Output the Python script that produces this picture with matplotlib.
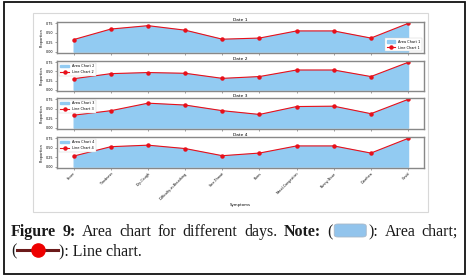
import matplotlib
matplotlib.use('Agg')
from matplotlib import pyplot as plt
from matplotlib.patches import Rectangle, FancyBboxPatch
from matplotlib.lines import Line2D
import numpy as np

# symptoms on the x axis
symptoms = ['Fever', 'Tiredness', 'Dry-Cough', 'Difficulty-in-Breathing', 'Sore-Throat',
            'Pains', 'Nasal-Congestion', 'Runny-Nose', 'Diarrhea', 'Covid']

# proportion per day
day1 = [0.32, 0.60, 0.69, 0.57, 0.33, 0.36, 0.55, 0.55, 0.36, 0.75]
day2 = [0.30, 0.44, 0.47, 0.45, 0.31, 0.36, 0.54, 0.54, 0.36, 0.75]
day3 = [0.33, 0.45, 0.65, 0.60, 0.45, 0.35, 0.56, 0.57, 0.37, 0.75]
day4 = [0.28, 0.53, 0.57, 0.48, 0.29, 0.36, 0.55, 0.55, 0.36, 0.75]
days = [day1, day2, day3, day4]
legend_locs = ['lower right', 'upper left', 'upper left', 'upper left']

W, H = 469, 277
fig = plt.figure(figsize=(W / 100, H / 100), dpi=100)

def px_box(x0, y0, x1, y1):
    # pixel box (top-left origin) -> figure fraction rect
    return [x0 / W, 1 - y1 / H, (x1 - x0) / W, (y1 - y0) / H]

# outer frame + light gray border of the embedded chart
fig.patches.append(Rectangle((4 / W, 1 - 274 / H), 461 / W, 272 / H, transform=fig.transFigure,
                             fill=False, edgecolor='#111111', lw=1.3))
fig.patches.append(Rectangle((33 / W, 1 - 212 / H), 395 / W, 199 / H, transform=fig.transFigure,
                             fill=False, edgecolor='#d8d8d8', lw=0.8))

panel_px = [(22, 53), (61, 91), (98, 129), (137, 168)]
x = np.arange(len(symptoms))
for i, (top, bot) in enumerate(panel_px):
    ax = fig.add_axes(px_box(57, top, 424, bot))
    vals = days[i]
    ax.fill_between(x, vals, color='#92CBF2', label=f'Area Chart {i + 1}')
    ax.plot(x, vals, color='#e8101a', lw=0.8, marker='o', markersize=2.2,
            label=f'Line Chart {i + 1}')
    ax.set_xlim(-0.45, 9.43)
    ax.set_ylim(-0.0375, 0.7875)
    ax.set_yticks([0.0, 0.25, 0.5, 0.75])
    ax.set_yticklabels(['0.00', '0.25', '0.50', '0.75'])
    ax.set_xticks(x)
    ax.tick_params(labelsize=2.4, length=1.5, width=0.4, pad=1, color='#555555')
    ax.set_ylabel('Proportion', fontsize=2.6, labelpad=2)
    ax.set_title(f'Date {i + 1}', fontsize=3.2, pad=1)
    for s in ax.spines.values():
        s.set_color('#888888')
        s.set_linewidth(1.0)
    leg = ax.legend(loc=legend_locs[i], fontsize=2.5, frameon=True, handlelength=2.5,
                    borderpad=0.5, labelspacing=0.5, framealpha=1, edgecolor='#cccccc',
                    fancybox=False)
    leg.get_frame().set_linewidth(0.3)
    if i < 3:
        ax.set_xticklabels([])
    else:
        ax.set_xticklabels(symptoms, rotation=45, ha='right', rotation_mode='anchor')
        ax.set_xlabel('Symptoms', fontsize=2.8, labelpad=2)

# caption (first line justified between the frame margins)
serif = 'Liberation Serif'
fs = 11.5
fig.canvas.draw()
renderer = fig.canvas.get_renderer()

def put(txt, xp, yp, bold=False):
    t = fig.text(xp / W, 1 - yp / H, txt, fontsize=fs, family=serif,
                 fontweight='bold' if bold else 'normal', va='baseline', ha='left',
                 color='#1a1a1a')
    return t, t.get_window_extent(renderer).width

def width_of(txt, bold=False):
    t, w = put(txt, 0, 0, bold)
    t.remove()
    return w

BOX_W = 32
tokens = [('Figure', True), ('9:', True), ('Area', False), ('chart', False), ('for', False),
          ('different', False), ('days.', False), ('Note:', True), ('BOX', False),
          ('Area', False), ('chart;', False)]
open_w = width_of('(')
close_w = width_of('):')
widths = []
for tok, b in tokens:
    if tok == 'BOX':
        widths.append(open_w + 2 + BOX_W + 2 + close_w)
    else:
        widths.append(width_of(tok, b))
x_start, x_end = 11, 458
gap = (x_end - x_start - sum(widths)) / (len(tokens) - 1)

y1 = 236
xp = x_start
for (tok, b), w in zip(tokens, widths):
    if tok == 'BOX':
        put('(', xp, y1)
        bx = xp + open_w + 2
        fig.patches.append(FancyBboxPatch((bx / W, 1 - 237 / H), BOX_W / W, 13 / H,
                                          boxstyle='round,pad=0,rounding_size=0.008',
                                          transform=fig.transFigure, facecolor='#92c4ec',
                                          edgecolor='#a9b8c8', lw=0.6))
        put('):', bx + BOX_W + 2, y1)
    else:
        put(tok, xp, y1, b)
    xp += w + gap

y2 = 255
_, w = put('(', 11, y2)
lx0, lx1 = 11 + w + 1, 11 + w + 42
fig.lines.append(Line2D([lx0 / W, lx1 / W], [1 - 250 / H, 1 - 250 / H], transform=fig.transFigure,
                        color='#6b1a1a', lw=2.2))
fig.lines.append(Line2D([(lx0 + lx1) / 2 / W], [1 - 250 / H], transform=fig.transFigure,
                        marker='o', markersize=9.5, color='#ee0000', lw=0))
put('): Line chart.', lx1 + 1, y2)

fig.savefig('out.png', dpi=100)
